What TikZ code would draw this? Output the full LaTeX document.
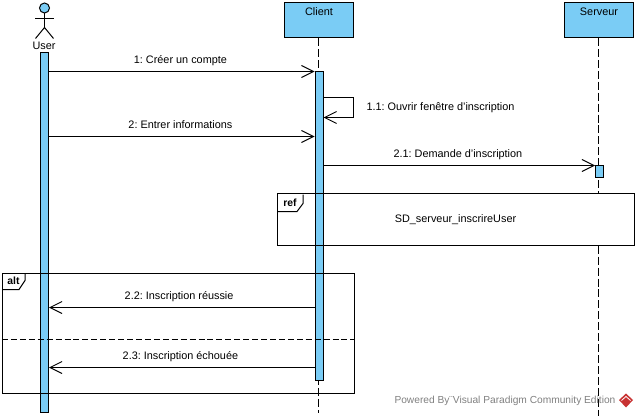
\documentclass[tikz,border=0pt]{standalone}
\usepackage{fontspec}
\setmainfont{Liberation Sans}
\usetikzlibrary{arrows.meta}
\definecolor{barblue}{RGB}{122,204,245}
\definecolor{footgray}{RGB}{128,128,128}
\definecolor{logored}{RGB}{200,50,50}
\frenchspacing

\begin{document}
\begin{tikzpicture}[x = 0.75pt, y = -0.75pt, font = \fontsize{8.15pt}{10pt}\selectfont, line width = 0.75pt,
    lifebox/.style = {draw, fill = barblue, minimum width = 51.75pt, minimum height = 25.9pt, inner sep = 0pt},
    lifetext/.style = {anchor = north, inner sep = 3.6pt},
    lifeline/.style = {dash pattern = on 6pt off 2.2pt},
    bar/.style = {draw, fill = barblue, minimum width = 6pt, inner sep = 0pt},
    msg/.style = {-{Straight Barb[length = 9pt, width = 9pt, line width = 0.75pt]}},
    msglabel/.style = {above = 0.6pt, text depth = 1.7pt},
    tag/.style = {font = \fontsize{7.8pt}{10pt}\selectfont\bfseries, inner sep = 0pt}]
      \useasboundingbox (0, -0.5) rectangle (638, 416.5);
      % lifelines
      \node (client)  [lifebox, label = {[lifetext]north:Client}]  at (319, 19.75) {};
      \node (serveur) [lifebox, label = {[lifetext]north:Serveur}] at (599, 19.75) {};
      \coordinate (clientend)  at (318, 412);
      \coordinate (serveurend) at (598.5, 415);
      \draw[lifeline] (client.south -| clientend) -- (clientend);
      \draw[lifeline] (serveur.south -| serveurend) -- (serveurend);
      % actor
      \node (head) [circle, draw, fill = barblue, minimum size = 7.5pt, inner sep = 0pt] at (44.5, 7.5) {};
      \coordinate (hip)  at (44.5, 27);
      \coordinate (armleft)  at (35, 18);
      \coordinate (armright) at (54, 18);
      \coordinate (legleft)  at (35.5, 38);
      \coordinate (legright) at (53.5, 38);
      \draw (head.south) -- (hip);
      \draw (armleft) -- (armright);
      \draw (legleft) -- (hip) -- (legright);
      \node (user) [inner sep = 0pt] at (44, 45) {User};
      % ref frame, the fill goes under the bars
      \node (refbox) [fill = white, minimum width = 267pt, minimum height = 37.9pt, inner sep = 0pt] at (456, 219.25) {};
      \node (reftext) at (455.5, 219) {SD\_serveur\_inscrireUser};
      % activations
      \node (userbar)    [bar, minimum height = 270pt]  at (44.5, 232) {};
      \node (clientbar)  [bar, minimum height = 231.75pt] at (319, 225.5) {};
      \node (serveurbar) [bar, minimum height = 9pt]    at (599.5, 171) {};
      % frames
      \draw (refbox.south west) rectangle (refbox.north east);
      \node (reftag) [tag] at (290, 202.5) {ref};
      \coordinate (reftaga) at (278, 211);
      \coordinate (reftagb) at (297, 211);
      \coordinate (reftagc) at (303, 203);
      \coordinate (reftagd) at (303, 194);
      \draw (reftaga) -- (reftagb) -- (reftagc) -- (reftagd);
      \node (altbox) [draw, minimum width = 264pt, minimum height = 90.5pt, inner sep = 0pt] at (178.5, 333) {};
      \node (alttag) [tag] at (13.5, 280.5) {alt};
      \coordinate (alttaga) at (2.5, 289);
      \coordinate (alttagb) at (19, 289);
      \coordinate (alttagc) at (25, 280);
      \coordinate (alttagd) at (25, 272.5);
      \draw (alttaga) -- (alttagb) -- (alttagc) -- (alttagd);
      \coordinate (altsplit) at (354.5, 339);
      \draw[dash pattern = on 4.5pt off 2.2pt] (altbox.west |- altsplit) -- (altsplit);
      % messages
      \coordinate (ua) at (userbar.east |- 0, 71);
      \coordinate (ca) at (clientbar.west |- 0, 71);
      \coordinate (ub) at (userbar.east |- 0, 136);
      \coordinate (cb) at (clientbar.west |- 0, 136);
      \coordinate (cc) at (clientbar.east |- 0, 165);
      \coordinate (sc) at (serveurbar.west |- 0, 165);
      \coordinate (cd) at (clientbar.west |- 0, 307);
      \coordinate (ud) at (userbar.east |- 0, 307);
      \coordinate (ce) at (clientbar.west |- 0, 367);
      \coordinate (ue) at (userbar.east |- 0, 367);
      \path[msg] (ua) edge node[msglabel, xshift = -1pt] {1: Créer un compte} (ca)
                 (ub) edge node[msglabel, xshift = -1pt] {2: Entrer informations} (cb)
                 (cc) edge node[msglabel, xshift = -1pt] {2.1: Demande d'inscription} (sc)
                 (cd) edge node[msglabel, xshift = -2pt] {2.2: Inscription réussie} (ud)
                 (ce) edge node[msglabel, xshift = -1pt] {2.3: Inscription échouée} (ue);
      \coordinate (selfa) at (clientbar.east |- 0, 97);
      \coordinate (selfb) at (353, 97);
      \coordinate (selfc) at (353, 117);
      \coordinate (selfd) at (clientbar.east |- 0, 117);
      \draw[msg] (selfa) -- (selfb) -- (selfc) -- (selfd);
      \node (selflabel) [anchor = west, inner sep = 0pt] at (366, 107) {1.1: Ouvrir fenêtre d'inscription};
      % footer
      \node (footer) [anchor = west, inner sep = 0pt, text = footgray, font = \fontsize{7.65pt}{10pt}\selectfont] at (394, 400) {Powered By¨Visual Paradigm Community Edition};
      \fill[logored] (626, 393) -- (633, 399.5) -- (626, 407) -- (619, 399.5) -- cycle;
      \draw[white, line width = 0.6pt] (621.5, 400) -- (626, 396) -- (630.5, 400);
\end{tikzpicture}
\end{document}
